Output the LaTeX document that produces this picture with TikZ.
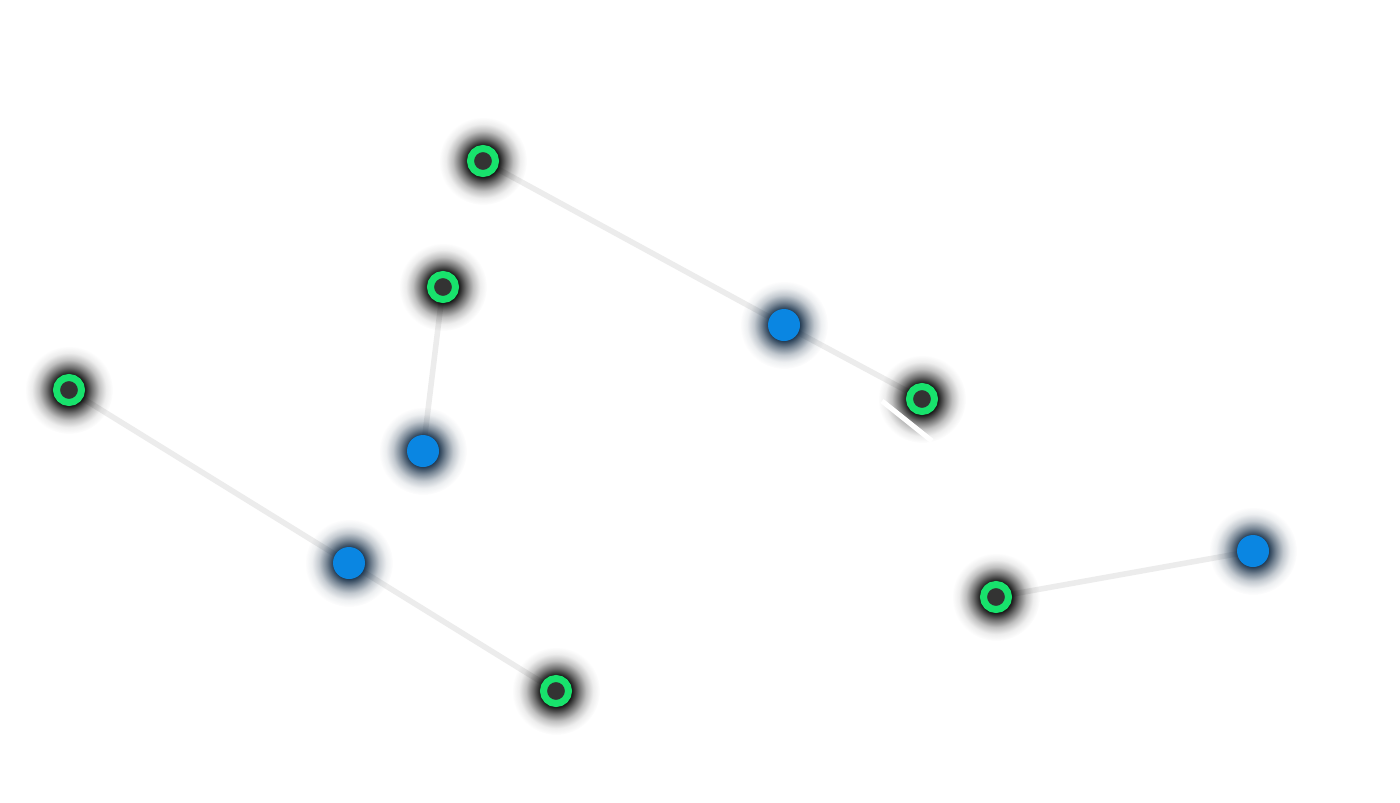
\documentclass[tikz,border=0pt]{standalone}
\usetikzlibrary{fadings}
\pgfdeclarelayer{back}
\pgfdeclarelayer{mid}
\pgfsetlayers{back,mid,main}
\definecolor{nodegreen}{RGB}{24,226,108}
\definecolor{nodedark}{RGB}{51,51,51}
\definecolor{nodeblue}{RGB}{10,134,226}
\definecolor{linkgray}{RGB}{236,236,236}
\definecolor{navyglow}{RGB}{14,40,66}
\pgfdeclareradialshading{glowshape}{\pgfpointorigin}{color(0bp)=(pgftransparent!0); color(9bp)=(pgftransparent!10); color(13bp)=(pgftransparent!45); color(17bp)=(pgftransparent!75); color(21bp)=(pgftransparent!93); color(25bp)=(pgftransparent!100); color(50bp)=(pgftransparent!100)}
\pgfdeclarefading{glowfade}{\pgfuseshading{glowshape}}
\tikzset{
  greennode/.style={circle, fill=nodedark, draw=nodegreen, line width=0.14cm, minimum size=0.5cm, inner sep=0pt},
  bluenode/.style={circle, fill=nodeblue, minimum size=0.64cm, inner sep=0pt},
  link/.style={draw=linkgray, line width=0.11cm},
  darkglow/.style={fill=black, path fading=glowfade},
  blueglow/.style={fill=navyglow, path fading=glowfade},
}
\begin{document}
\begin{tikzpicture}[x=0.02cm, y=-0.02cm]
		\begin{pgfonlayer}{back}
		\fill[white] (0,0) rectangle (1400,802);
		\end{pgfonlayer}
		\useasboundingbox (0,0) rectangle (1400,802);
		
		\node[greennode] (g1) at (483,161) {};
		\node[greennode] (g2) at (443,287) {};
		\node[greennode] (g3) at (69,390) {};
		\node[greennode] (g4) at (922,399) {};
		\node[greennode] (g5) at (556,691) {};
		\node[greennode] (g6) at (996,597) {};
		
		\node[bluenode] (b1) at (784,325) {};
		\node[bluenode] (b2) at (423,451) {};
		\node[bluenode] (b3) at (349,563) {};
		\node[bluenode] (b4) at (1253,551) {};
		
		\begin{pgfonlayer}{back}
		\draw[link] (g1.center) -- (b1.center) -- (g4.center);
		\draw[link] (g2.center) -- (b2.center);
		\draw[link] (g3.center) -- (b3.center) -- (g5.center);
		\draw[link] (g6.center) -- (b4.center);
		\end{pgfonlayer}
		
		\begin{pgfonlayer}{mid}
		\fill[darkglow] (g1) circle (0.88cm);
		\fill[darkglow] (g2) circle (0.88cm);
		\fill[darkglow] (g3) circle (0.88cm);
		\fill[darkglow] (g4) circle (0.88cm);
		\fill[darkglow] (g5) circle (0.88cm);
		\fill[darkglow] (g6) circle (0.88cm);
		\fill[blueglow] (b1) circle (0.88cm);
		\fill[blueglow] (b2) circle (0.88cm);
		\fill[blueglow] (b3) circle (0.88cm);
		\fill[blueglow] (b4) circle (0.88cm);
		
		\coordinate (w1) at (882,401);
		\coordinate (w2) at (932,441);
		\draw[white, line width=0.1cm] (w1) -- (w2);
		\end{pgfonlayer}
	\end{tikzpicture}
\end{document}
